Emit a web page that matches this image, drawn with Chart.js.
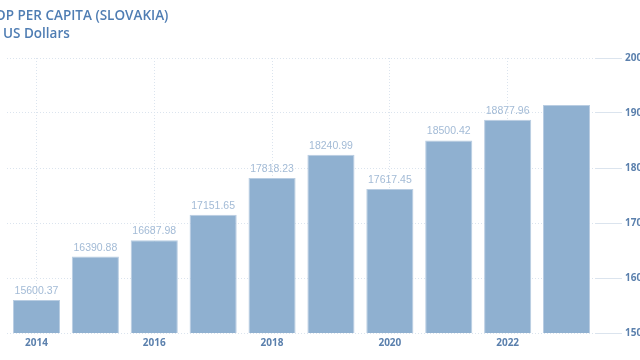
<!DOCTYPE html>
<html>
<head>
<meta charset="utf-8">
<script src="https://cdn.jsdelivr.net/npm/chart.js@4"></script>
<style>
    html, body { margin: 0; padding: 0; background: #ffffff; }
    body { width: 640px; height: 360px; overflow: hidden; position: relative; }
    #wrap { position: absolute; left: 0; top: 0; width: 680px; height: 360px; }
    .title, .subtitle { position: absolute; font: 600 13.5px "Open Sans", sans-serif; color: #4f7db3; white-space: nowrap; }
    /* the reference is cropped: the "GD" of the title falls off the left edge */
    .title { left: -14px; top: 6px; }
    .subtitle { left: 3px; top: 24px; }
</style>
</head>
<body>
<div id="wrap"><canvas id="gdp-chart" width="680" height="360"></canvas></div>
<div class="title">GDP PER CAPITA (SLOVAKIA)</div>
<div class="subtitle">US Dollars</div>
<script>
// GDP per capita, Slovakia (US Dollars)
const years = ['2014', '2015', '2016', '2017', '2018', '2019', '2020', '2021', '2022', '2023'];
const gdpValues = [15600.37, 16390.88, 16687.98, 17151.65, 17818.23, 18240.99, 17617.45, 18500.42, 18877.96, 19145];
const yTicks = [15000, 16000, 17000, 18000, 19000, 20000];

const axisColor = '#5b80ad';
const gridColor = '#dbe4ee';

// Value labels above the bars (last bar has none in the source)
const barValueLabels = {
    id: 'barValueLabels',
    afterDatasetsDraw(chart) {
        const ctx = chart.ctx;
        const meta = chart.getDatasetMeta(0);
        ctx.save();
        ctx.font = '10.5px "Liberation Sans", sans-serif';
        ctx.fillStyle = '#a3bbd6';
        ctx.textAlign = 'center';
        ctx.textBaseline = 'alphabetic';
        meta.data.forEach((bar, i) => {
            if (i === years.length - 1) return;
            ctx.fillText(gdpValues[i].toFixed(2), bar.x, bar.y - 6);
        });
        ctx.restore();
    }
};

new Chart(document.getElementById('gdp-chart'), {
    type: 'bar',
    data: {
        labels: years,
        datasets: [{
            label: 'GDP per capita',
            data: gdpValues,
            backgroundColor: '#8fb0d0',
            borderColor: '#b9cde2',
            borderWidth: 1,
            barPercentage: 0.8,
            categoryPercentage: 1.0
        }]
    },
    options: {
        responsive: false,
        animation: false,
        layout: { padding: { left: 7, top: 58, right: 0, bottom: 0 } },
        scales: {
            x: {
                grid: {
                    offset: false,
                    drawTicks: false,
                    color: ctx => (ctx.index % 2 === 0 ? gridColor : 'rgba(0,0,0,0)')
                },
                border: { display: false, dash: [1, 2] },
                ticks: {
                    autoSkip: false,
                    maxRotation: 0,
                    padding: 4,
                    color: axisColor,
                    font: { family: 'Open Sans', size: 10, weight: '700' },
                    callback: (v, i) => (i % 2 === 0 ? years[i] : '')
                },
                afterFit: s => { s.height = 27; }
            },
            y: {
                position: 'right',
                min: 15000,
                max: 20000,
                afterBuildTicks: s => { s.ticks = yTicks.map(v => ({ value: v })); },
                grid: { color: gridColor, tickLength: 26, drawTicks: true },
                border: { display: false, dash: [1, 2] },
                ticks: {
                    padding: 3,
                    color: axisColor,
                    font: { family: 'Open Sans', size: 10, weight: '700' },
                    callback: v => String(v)
                },
                afterFit: s => { s.width = 84; }
            }
        },
        plugins: {
            legend: { display: false },
            tooltip: { enabled: false }
        }
    },
    plugins: [barValueLabels]
});
</script>
</body>
</html>
